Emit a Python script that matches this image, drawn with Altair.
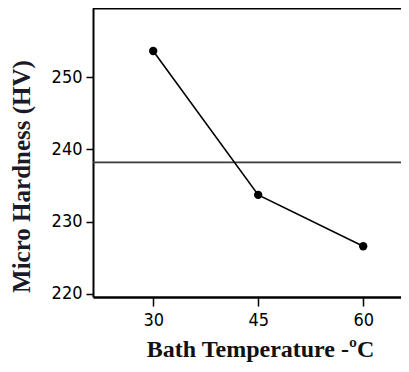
import altair as alt
import pandas as pd

temps = [30, 45, 60]
hardness = [253.6, 233.7, 226.6]
mean_hardness = [238.2]
x_ticks = [30, 45, 60]
y_ticks = [220, 230, 240, 250]

df = pd.DataFrame({"temp": temps, "hv": hardness})
mean_df = pd.DataFrame({"hv": mean_hardness})

W, H = 308, 289
x_scale = alt.Scale(domain=[21.4, 21.4 + W / 7.0], nice=False, zero=False)
y_scale = alt.Scale(domain=[219.58, 259.55], nice=False, zero=False)

label_font = "DejaVu Sans Condensed"
title_font = "Liberation Serif"

x_axis = alt.Axis(values=x_ticks, title="Bath Temperature -ºC", grid=False,
                  tickSize=9, tickWidth=1.5, tickColor="black",
                  domainColor="black", domainWidth=2.5,
                  labelFont=label_font, labelFontSize=18, labelColor="black",
                  labelPadding=5, titleFont=title_font, titleFontSize=24,
                  titleFontWeight="bold", titleColor="#111",
                  titleX=167, titleY=59, titleAlign="center",
                  titleBaseline="alphabetic")
y_axis = alt.Axis(values=y_ticks, title="Micro Hardness (HV)", grid=False,
                  tickSize=7, tickWidth=1.5, tickColor="black",
                  domainColor="black", domainWidth=2,
                  labelFont=label_font, labelFontSize=18, labelColor="black",
                  labelPadding=4, titleFont=title_font, titleFontSize=25,
                  titleFontWeight="bold", titleColor="#1a1a2a",
                  titleX=-59, titleY=168, titleAlign="center",
                  titleBaseline="bottom", titleAngle=270)

base = alt.Chart(df).encode(
    x=alt.X("temp:Q", scale=x_scale, axis=x_axis),
    y=alt.Y("hv:Q", scale=y_scale, axis=y_axis),
)
line = base.mark_line(color="black", strokeWidth=1.6)
pts = base.mark_circle(color="black", size=70, opacity=1)

mean_rule = alt.Chart(mean_df).mark_rule(color="#3a3a3a", strokeWidth=1.8).encode(
    y=alt.Y("hv:Q", scale=y_scale)
)
top_rule = alt.Chart(mean_df).mark_rule(color="black", strokeWidth=2).encode(
    y=alt.value(0.5), x=alt.value(0), x2=alt.value(W)
)

chart = alt.layer(mean_rule, line, pts, top_rule).properties(
    width=W, height=H,
    padding={"left": 85, "top": 0, "right": 0, "bottom": 67},
    autosize=alt.AutoSizeParams(type="none"),
).configure_view(stroke=None)

chart.save("out.html", embed_options={"renderer": "svg", "actions": False})
